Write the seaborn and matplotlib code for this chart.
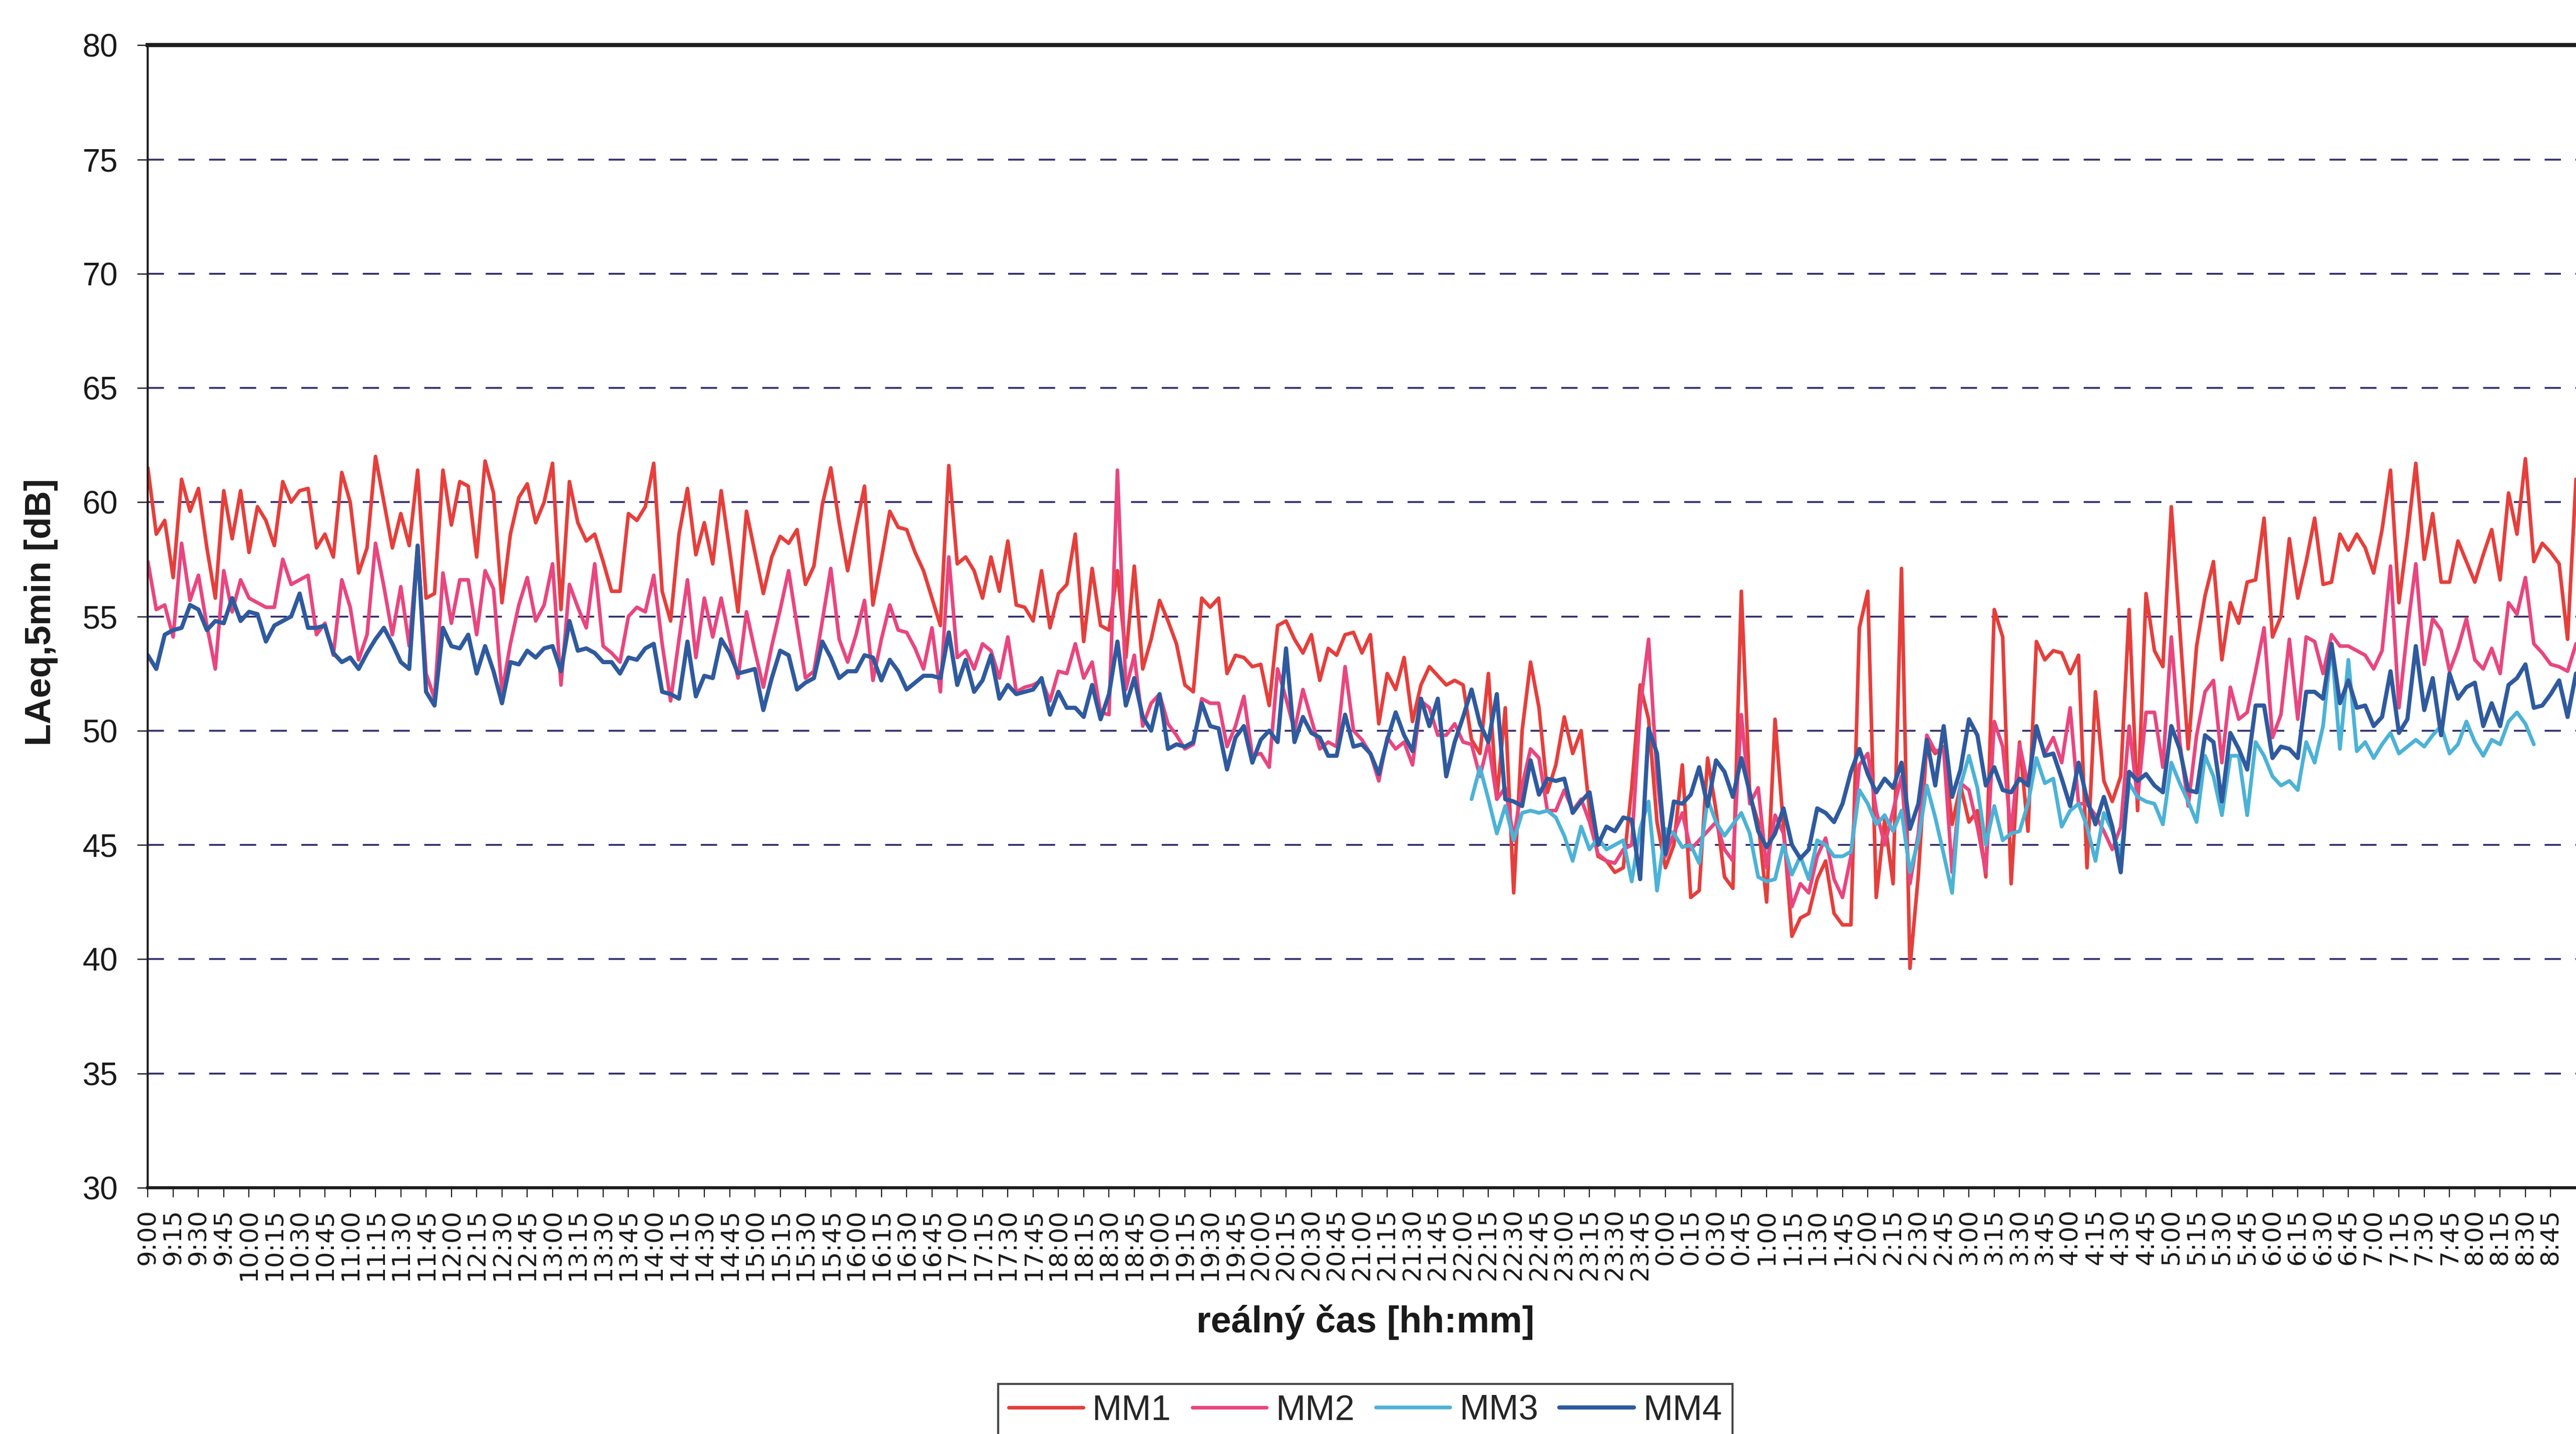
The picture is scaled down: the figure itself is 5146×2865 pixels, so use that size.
import numpy as np
import pandas as pd
import matplotlib
matplotlib.use('Agg')
import matplotlib.pyplot as plt
from matplotlib.lines import Line2D
import seaborn as sns


# tick labels, one every 15 min (every 3rd 5-min sample)
time_labels = [
    '9:00', '9:15', '9:30', '9:45',
    '10:00', '10:15', '10:30', '10:45', '11:00', '11:15', '11:30', '11:45',
    '12:00', '12:15', '12:30', '12:45', '13:00', '13:15', '13:30', '13:45',
    '14:00', '14:15', '14:30', '14:45', '15:00', '15:15', '15:30', '15:45',
    '16:00', '16:15', '16:30', '16:45', '17:00', '17:15', '17:30', '17:45',
    '18:00', '18:15', '18:30', '18:45', '19:00', '19:15', '19:30', '19:45',
    '20:00', '20:15', '20:30', '20:45', '21:00', '21:15', '21:30', '21:45',
    '22:00', '22:15', '22:30', '22:45', '23:00', '23:15', '23:30', '23:45',
    '0:00', '0:15', '0:30', '0:45', '1:00', '1:15', '1:30', '1:45',
    '2:00', '2:15', '2:30', '2:45', '3:00', '3:15', '3:30', '3:45',
    '4:00', '4:15', '4:30', '4:45', '5:00', '5:15', '5:30', '5:45',
    '6:00', '6:15', '6:30', '6:45', '7:00', '7:15', '7:30', '7:45',
    '8:00', '8:15', '8:30', '8:45',
]

# LAeq,5min [dB], one value per 5 minutes from 9:00
mm1 = [
    61.5, 58.6, 59.2, 56.7, 61.0, 59.6, 60.6, 58.0, 55.8, 60.5,
    58.4, 60.5, 57.8, 59.8, 59.2, 58.1, 60.9, 60.0, 60.5, 60.6,
    58.0, 58.6, 57.6, 61.3, 60.0, 56.9, 58.0, 62.0, 60.0, 58.0,
    59.5, 58.1, 61.4, 55.8, 56.0, 61.4, 59.0, 60.9, 60.7, 57.6,
    61.8, 60.4, 55.6, 58.6, 60.2, 60.8, 59.1, 60.0,
    61.7, 55.3, 60.9, 59.1, 58.3, 58.6, 57.4, 56.1, 56.1, 59.5,
    59.2, 59.8, 61.7, 56.1, 54.8, 58.6, 60.6, 57.7, 59.1, 57.3,
    60.5, 57.9, 55.2, 59.6, 57.8, 56.0, 57.6, 58.5, 58.2, 58.8,
    56.4, 57.2, 59.9, 61.5, 59.1, 57.0, 58.9, 60.7, 55.5, 57.5,
    59.6, 58.9, 58.8, 57.8, 57.0, 55.8, 54.6, 61.6,
    57.3, 57.6, 57.0, 55.8, 57.6, 56.1, 58.3, 55.5, 55.4, 54.8,
    57.0, 54.5, 56.0, 56.4, 58.6, 53.9, 57.1, 54.6, 54.4, 57.0,
    53.2, 57.2, 52.7, 54.0, 55.7, 54.8, 53.8, 52.0, 51.7, 55.8,
    55.4, 55.8, 52.5, 53.3, 53.2, 52.8, 52.9, 51.1, 54.6, 54.8,
    54.0, 53.4, 54.2, 52.2, 53.6, 53.3, 54.2, 54.3,
    53.4, 54.2, 50.3, 52.5, 51.8, 53.2, 50.4, 52.0, 52.8, 52.4,
    52.0, 52.2, 52.0, 49.6, 49.0, 52.5, 47.0, 51.0, 42.9, 50.0,
    53.0, 51.0, 47.3, 48.5, 50.6, 49.0, 50.0, 46.5, 44.5, 44.3,
    43.8, 44.0, 47.5, 52.0, 50.5, 46.0, 44.0, 45.0, 48.5, 42.7,
    43.0, 48.8, 46.5, 43.6, 43.1, 56.1, 47.2,
    46.0, 42.5, 50.5, 45.8, 41.0, 41.8, 42.0, 43.5, 44.3, 42.0,
    41.5, 41.5, 54.5, 56.1, 42.7, 46.1, 43.3, 57.1, 39.6, 43.7,
    49.5, 49.0, 49.3, 45.9, 47.6, 46.0, 46.5, 43.6, 55.3, 54.1,
    43.3, 49.5, 45.6, 53.9, 53.1, 53.5, 53.4, 52.5, 53.3, 44.0,
    51.7, 47.8, 46.9, 48.0, 55.3, 46.5, 56.0, 53.5,
    52.8, 59.8, 54.5, 49.2, 53.7, 55.9, 57.4, 53.1, 55.6, 54.7,
    56.5, 56.6, 59.3, 54.1, 55.0, 58.4, 55.8, 57.4, 59.3, 56.4,
    56.5, 58.6, 57.9, 58.6, 58.0, 56.9, 58.8, 61.4, 55.6, 58.5,
    61.7, 57.5, 59.5, 56.5, 56.5, 58.3, 57.4, 56.5, 57.7, 58.8,
    56.6, 60.4, 58.6, 61.9, 57.4, 58.2, 57.8, 57.3, 54.0, 61.0,
]

mm2 = [
    57.4, 55.3, 55.5, 54.1, 58.2, 55.7, 56.8, 54.6, 52.7, 57.0,
    55.2, 56.6, 55.8, 55.6, 55.4, 55.4, 57.5, 56.4, 56.6, 56.8,
    54.2, 54.7, 53.3, 56.6, 55.4, 53.1, 54.2, 58.2, 56.3, 54.2,
    56.3, 53.7, 58.1, 52.5, 51.4, 56.9, 54.7, 56.6, 56.6, 54.2,
    57.0, 56.2, 51.7, 53.8, 55.5, 56.7, 54.8, 55.5,
    57.3, 52.0, 56.4, 55.4, 54.5, 57.3, 53.7, 53.4, 53.0, 55.0,
    55.4, 55.2, 56.8, 53.8, 51.3, 54.0, 56.6, 53.2, 55.8, 54.1,
    55.8, 54.0, 52.3, 55.2, 53.5, 51.9, 53.7, 55.3, 57.0, 54.6,
    52.3, 52.6, 54.8, 57.1, 54.0, 53.0, 54.2, 55.7, 52.2, 54.0,
    55.5, 54.4, 54.3, 53.6, 52.7, 54.5, 51.7, 57.6,
    53.2, 53.5, 52.7, 53.8, 53.5, 52.3, 54.1, 51.7, 51.9, 52.0,
    52.2, 51.3, 52.6, 52.5, 53.8, 52.3, 53.0, 50.8, 50.7, 61.4,
    51.8, 53.3, 50.2, 51.2, 51.6, 50.3, 49.8, 49.2, 49.4, 51.4,
    51.2, 51.2, 49.3, 50.2, 51.5, 48.9, 49.0, 48.4, 52.7, 51.4,
    50.0, 51.8, 50.5, 49.2, 49.5, 49.3, 52.8, 50.0,
    49.6, 49.0, 47.8, 49.7, 49.2, 49.5, 48.5, 51.3, 51.0, 49.8,
    49.8, 50.3, 49.5, 49.4, 48.0, 49.5, 47.0, 47.5, 45.3, 47.6,
    49.2, 48.8, 46.5, 46.5, 47.4, 46.5, 47.0, 46.0, 44.6, 44.3,
    44.2, 44.8, 45.0, 51.0, 54.0, 48.0, 44.5, 45.5, 46.4, 44.8,
    45.2, 45.6, 46.0, 44.8, 44.3, 50.7, 46.8,
    47.5, 44.0, 46.3, 45.5, 42.3, 43.3, 42.9, 44.5, 45.3, 43.5,
    42.7, 44.5, 48.5, 49.0, 46.5, 45.0, 46.5, 48.0, 43.3, 45.5,
    49.8, 49.1, 49.2, 43.8, 47.7, 47.4, 45.8, 43.8, 50.4, 49.3,
    45.5, 49.4, 47.6, 50.0, 49.0, 49.7, 48.6, 51.0, 46.8, 46.8,
    46.3, 45.6, 44.8, 45.8, 50.2, 47.0, 50.8, 50.8,
    48.4, 54.1, 49.5, 46.7, 49.8, 51.7, 52.2, 48.6, 51.9, 50.5,
    50.8, 52.6, 54.5, 49.7, 50.7, 54.0, 50.5, 54.1, 53.9, 52.5,
    54.2, 53.7, 53.7, 53.5, 53.3, 52.7, 53.5, 57.2, 51.0, 54.4,
    57.3, 52.9, 54.9, 54.4, 52.6, 53.6, 54.9, 53.1, 52.7, 53.6,
    52.5, 55.6, 55.1, 56.7, 53.8, 53.4, 52.9, 52.8, 52.6, 53.8,
]

# MM3 only recorded from 22:05 to about 8:35
mm3 = [np.nan] * 157 + [
    47.0, 48.4, 47.0, 45.5, 46.7, 45.2, 46.4, 46.5, 46.4, 46.5,
    46.2, 45.4, 44.3, 45.8, 44.8, 45.3, 44.8, 45.0, 45.2, 43.4,
    45.7, 46.9, 43.0, 45.7, 45.5, 44.9, 45.0, 44.2, 47.0, 46.0,
    45.4, 45.9, 46.4, 45.5,
    43.6, 43.4, 43.5, 45.0, 43.7, 44.5, 43.5, 45.2, 45.0, 44.5,
    44.5, 44.7, 47.4, 46.8, 45.9, 46.3, 45.6, 46.5, 43.8, 45.2,
    47.6, 46.2, 44.6, 42.9, 47.6, 48.9, 47.5, 45.0, 46.7, 45.2,
    45.5, 45.6, 46.8, 48.8, 47.7, 47.9, 45.8, 46.5, 46.8, 45.8,
    44.3, 46.4, 45.6, 44.5, 47.7, 47.1, 46.9, 46.8,
    45.9, 48.6, 47.7, 46.9, 46.0, 48.9, 48.0, 46.3, 48.9, 48.9,
    46.3, 49.5, 48.9, 48.0, 47.6, 47.8, 47.4, 49.5, 48.6, 50.2,
    53.8, 49.2, 53.1, 49.1, 49.5, 48.8, 49.4, 49.9, 49.0, 49.3,
    49.6, 49.3, 49.8, 50.2, 49.0, 49.4, 50.4, 49.5, 48.9, 49.6,
    49.4, 50.4, 50.8, 50.3, 49.4,
] + [np.nan] * 5

mm4 = [
    53.3, 52.7, 54.2, 54.4, 54.5, 55.5, 55.3, 54.4, 54.8, 54.7,
    55.8, 54.8, 55.2, 55.1, 53.9, 54.6, 54.8, 55.0, 56.0, 54.5,
    54.5, 54.6, 53.4, 53.0, 53.2, 52.7, 53.4, 54.0, 54.5, 53.8,
    53.0, 52.7, 58.1, 51.7, 51.1, 54.5, 53.7, 53.6, 54.2, 52.5,
    53.7, 52.6, 51.2, 53.0, 52.9, 53.5, 53.2, 53.6,
    53.7, 52.6, 54.8, 53.5, 53.6, 53.4, 53.0, 53.0, 52.5, 53.2,
    53.1, 53.6, 53.8, 51.7, 51.6, 51.4, 53.9, 51.5, 52.4, 52.3,
    54.0, 53.4, 52.5, 52.6, 52.7, 50.9, 52.3, 53.5, 53.3, 51.8,
    52.1, 52.3, 53.9, 53.2, 52.3, 52.6, 52.6, 53.3, 53.2, 52.2,
    53.1, 52.6, 51.8, 52.1, 52.4, 52.4, 52.3, 54.3,
    52.0, 53.1, 51.7, 52.2, 53.3, 51.4, 52.0, 51.6, 51.7, 51.8,
    52.3, 50.7, 51.7, 51.0, 51.0, 50.6, 52.0, 50.5, 51.6, 53.9,
    51.1, 52.3, 50.6, 50.0, 51.6, 49.2, 49.4, 49.3, 49.5, 51.2,
    50.2, 50.1, 48.3, 49.7, 50.2, 48.6, 49.6, 50.0, 49.5, 53.6,
    49.5, 50.6, 49.9, 49.7, 48.9, 48.9, 50.7, 49.3,
    49.4, 49.0, 48.1, 49.6, 50.8, 49.8, 49.1, 51.4, 50.2, 51.4,
    48.0, 49.5, 50.6, 51.8, 50.3, 49.5, 51.6, 47.0, 46.9, 46.7,
    48.7, 47.2, 47.9, 47.8, 47.9, 46.4, 46.9, 47.3, 45.0, 45.8,
    45.6, 46.2, 46.1, 43.5, 50.1, 49.0, 44.6, 46.9, 46.8, 47.2,
    48.4, 46.7, 48.7, 48.2, 47.1, 48.8, 47.3,
    45.6, 44.9, 45.5, 46.6, 45.0, 44.4, 44.8, 46.6, 46.4, 46.0,
    46.8, 48.2, 49.2, 48.1, 47.3, 47.9, 47.5, 48.6, 45.7, 46.8,
    49.6, 47.6, 50.2, 47.1, 48.3, 50.5, 49.8, 47.6, 48.4, 47.4,
    47.3, 47.9, 47.6, 50.2, 48.9, 49.0, 47.9, 46.7, 48.6, 47.0,
    45.9, 47.1, 45.8, 43.8, 48.2, 47.8, 48.1, 47.6,
    47.3, 50.2, 49.2, 47.4, 47.3, 49.8, 49.5, 46.9, 49.9, 49.2,
    48.3, 51.1, 51.1, 48.8, 49.3, 49.2, 48.8, 51.7, 51.7, 51.4,
    53.8, 51.2, 52.2, 51.0, 51.1, 50.2, 50.6, 52.6, 49.9, 50.5,
    53.7, 50.9, 52.3, 49.8, 52.5, 51.4, 51.9, 52.1, 50.2, 51.2,
    50.2, 52.0, 52.3, 52.9, 51.0, 51.1, 51.6, 52.2, 50.6, 52.5,
]

series_names = ['MM1', 'MM2', 'MM3', 'MM4']
series_colors = ['#e53f3c', '#e8467f', '#4cb2d6', '#2f5a9e']
series_widths = [5.2, 5.2, 5.4, 6.0]

y_ticks = [30, 35, 40, 45, 50, 55, 60, 65, 70, 75, 80]


sns.set_style('white')
plt.rcParams['font.family'] = ['Liberation Sans', 'DejaVu Sans']

df = pd.DataFrame({'MM1': mm1, 'MM2': mm2, 'MM3': mm3, 'MM4': mm4})
df['sample'] = np.arange(len(df))

fig = plt.figure(figsize=(51.46, 28.65), dpi=100)
ax = fig.add_axes([0.0574, 0.1718, 0.9426, 0.7967])

#dashed horizontal grid
ax.set_axisbelow(True)
ax.yaxis.grid(True, color='#2f2b6b', linewidth=2.6, linestyle=(0, (9, 8)))
ax.xaxis.grid(False)

for name, col, lw in zip(series_names, series_colors, series_widths):
    sns.lineplot(data=df, x='sample', y=name, ax=ax, color=col,
                 linewidth=lw, legend=False)

ax.set_xlim(0, len(df) - 1)
ax.set_ylim(30, 80)
ax.set_yticks(y_ticks)
ax.set_xticks(np.arange(0, len(time_labels) * 3, 3))
#wide font so the rotated labels get long and thin like the scan
ax.set_xticklabels(time_labels, rotation=90, fontsize=36,
                   fontfamily='DejaVu Sans', va='top', ha='center')
for t in ax.get_yticklabels():
    t.set_fontsize(46)

ax.tick_params(axis='y', direction='out', length=15, width=1.8, pad=28,
               left=True, colors='#1a1a1a')
ax.tick_params(axis='x', direction='out', length=14, width=1.6, pad=16,
               bottom=True, colors='#1a1a1a')
ax.set_xlabel('')
ax.set_ylabel('')

#spines like the excel plot area
ax.spines['right'].set_visible(False)
ax.spines['left'].set_linewidth(3.0)
ax.spines['top'].set_linewidth(6.0)
ax.spines['bottom'].set_linewidth(4.5)
for s in ['left', 'top', 'bottom']:
    ax.spines[s].set_color('#1e1e1e')

fig.text(0.016, 0.573, 'LAeq,5min [dB]', rotation=90, fontsize=52,
         fontweight='bold', ha='center', va='center', color='#1a1a1a')
fig.text(0.530, 0.078, 'reálný čas [hh:mm]', fontsize=53,
         fontweight='bold', ha='center', va='center', color='#1a1a1a')

handles = [Line2D([], [], color=c, linewidth=lw)
           for c, lw in zip(series_colors, series_widths)]
leg = fig.legend(handles, series_names, loc='upper center',
                 bbox_to_anchor=(0.530, 0.0350), ncol=4, fontsize=51,
                 frameon=True, fancybox=False, edgecolor='#1a1a1a',
                 handlelength=2.1, handletextpad=0.25, columnspacing=0.6,
                 borderpad=0.3, borderaxespad=0)
leg.get_frame().set_linewidth(3.0)

fig.savefig('out.png', dpi=100, facecolor='white')
